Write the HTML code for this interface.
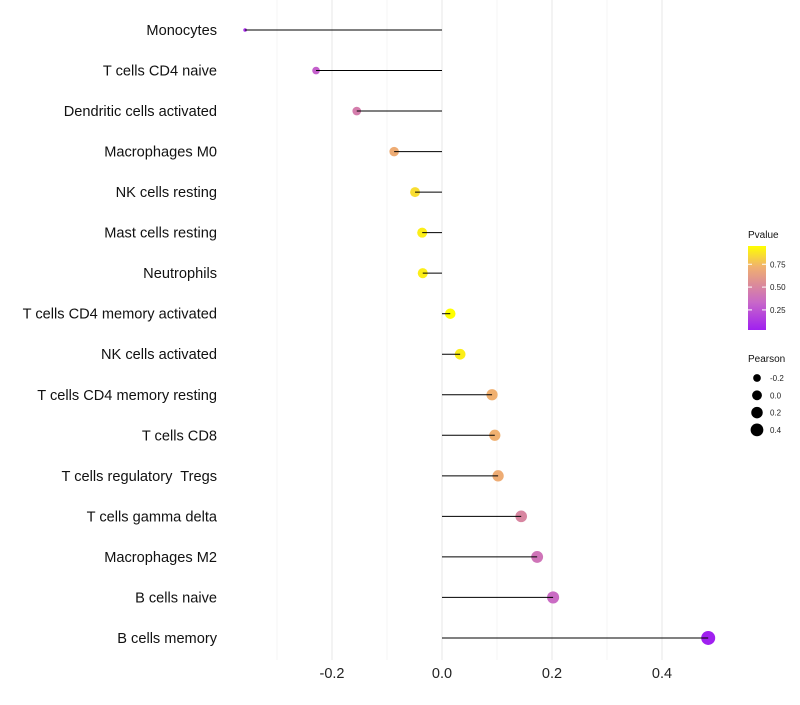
<!DOCTYPE html>
<html><head><meta charset="utf-8"><style>
body{margin:0;background:#fff;font-family:"Liberation Sans",sans-serif}
text{white-space:pre}
</style></head><body>
<svg id="chart" width="800" height="700" xmlns="http://www.w3.org/2000/svg" xml:space="preserve">
<defs><linearGradient id="pgrad" x1="0" y1="1" x2="0" y2="0">
<stop offset="0" stop-color="#a020f0"/><stop offset="0.33" stop-color="#c868c8"/><stop offset="0.55" stop-color="#dc8c98"/><stop offset="0.75" stop-color="#f0b070"/><stop offset="1" stop-color="#ffff00"/></linearGradient></defs>
<g id="grid"></g><g id="marks"></g><g id="labels"></g><g id="legend"></g>
</svg>
<script>
const categories=["Monocytes","T cells CD4 naive","Dendritic cells activated","Macrophages M0","NK cells resting","Mast cells resting","Neutrophils","T cells CD4 memory activated","NK cells activated","T cells CD4 memory resting","T cells CD8","T cells regulatory  Tregs","T cells gamma delta","Macrophages M2","B cells naive","B cells memory"];
const pearson=[-0.358,-0.229,-0.155,-0.087,-0.049,-0.036,-0.035,0.015,0.033,0.091,0.096,0.102,0.144,0.173,0.202,0.484];
const pvalues=[0.08,0.3,0.45,0.7,0.85,0.9,0.9,0.95,0.9,0.72,0.72,0.7,0.5,0.4,0.35,0.03];
const xTicks=[-0.2,0.0,0.2,0.4];
const xTickLabels=["-0.2","0.0","0.2","0.4"];
const minorTicks=[-0.3,-0.1,0.1,0.3];
const pTicks=[0.25,0.5,0.75];
const sizeLegend=[-0.2,0.0,0.2,0.4];

const NS="http://www.w3.org/2000/svg";
const xs=v=>442+v*550;
const ys=i=>30+i*40.53;
function mk(t,a,p){const e=document.createElementNS(NS,t);for(const k in a)e.setAttribute(k,a[k]);p.appendChild(e);return e;}
const pmin=Math.min(...pvalues),pmax=Math.max(...pvalues);
const stops=[[0,[160,32,240]],[0.33,[200,104,200]],[0.55,[220,140,152]],[0.75,[240,176,112]],[1,[255,255,0]]];
function pcol(p){let t=(p-pmin)/(pmax-pmin);t=Math.max(0,Math.min(1,t));
for(let i=1;i<stops.length;i++){if(t<=stops[i][0]){const a=stops[i-1],b=stops[i];const f=(t-a[0])/(b[0]-a[0]);
const c=a[1].map((v,k)=>Math.round(v+(b[1][k]-v)*f));return `rgb(${c})`;}}return "#ff0";}
const smin=Math.min(...pearson),smax=Math.max(...pearson);
function rad(v){const f=Math.max(0,(v-smin)/(smax-smin));return 1.8+5.2*Math.sqrt(f);}

const grid=document.getElementById('grid'),marks=document.getElementById('marks'),labels=document.getElementById('labels'),legend=document.getElementById('legend');
minorTicks.forEach(v=>{const l=mk('line',{x1:xs(v),x2:xs(v),y1:0,y2:660,stroke:'#f4f4f4','stroke-width':1},grid);

});
xTicks.forEach((v,i)=>{const l=mk('line',{x1:xs(v),x2:xs(v),y1:0,y2:660,stroke:'#ebebeb','stroke-width':1.2},grid);


const t=mk('text',{x:xs(v),y:678,'text-anchor':'middle','font-size':14.5,fill:'#222'},labels);t.textContent=xTickLabels[i];

});
categories.forEach((c,i)=>{const y=ys(i);
const t=mk('text',{x:217,y:y+5,'text-anchor':'end','font-size':14.6,fill:'#111'},labels);t.textContent=c;


const pt=mk('circle',{cx:xs(pearson[i]),cy:y,r:rad(pearson[i]),fill:pcol(pvalues[i])},marks);


const ln=mk('line',{x1:xs(0),x2:xs(pearson[i]),y1:y,y2:y,stroke:'#000','stroke-width':1},marks);

});
let t=mk('text',{x:748,y:238,'font-size':10,fill:'#111'},legend);t.textContent="Pvalue";


const bt=246,bb=330;
const bar=mk('rect',{x:748,y:bt,width:18,height:bb-bt,fill:'url(#pgrad)'},legend);


const py=p=>bb-(p-pmin)/(pmax-pmin)*(bb-bt);
pTicks.forEach(p=>{mk('line',{x1:748,x2:752,y1:py(p),y2:py(p),stroke:'#fff'},legend);mk('line',{x1:762,x2:766,y1:py(p),y2:py(p),stroke:'#fff'},legend);
const tt=mk('text',{x:770,y:py(p)+3,'font-size':8,fill:'#222'},legend);tt.textContent=p.toFixed(2);

});
t=mk('text',{x:748,y:362,'font-size':10,fill:'#111'},legend);t.textContent="Pearson";


sizeLegend.forEach((v,i)=>{const y=378+i*17.3;
const c=mk('circle',{cx:757,cy:y,r:rad(v)*0.95,fill:'#000'},legend);


const tt=mk('text',{x:770,y:y+3,'font-size':8,fill:'#222'},legend);tt.textContent=v.toFixed(1);

});
</script>
</body></html>
